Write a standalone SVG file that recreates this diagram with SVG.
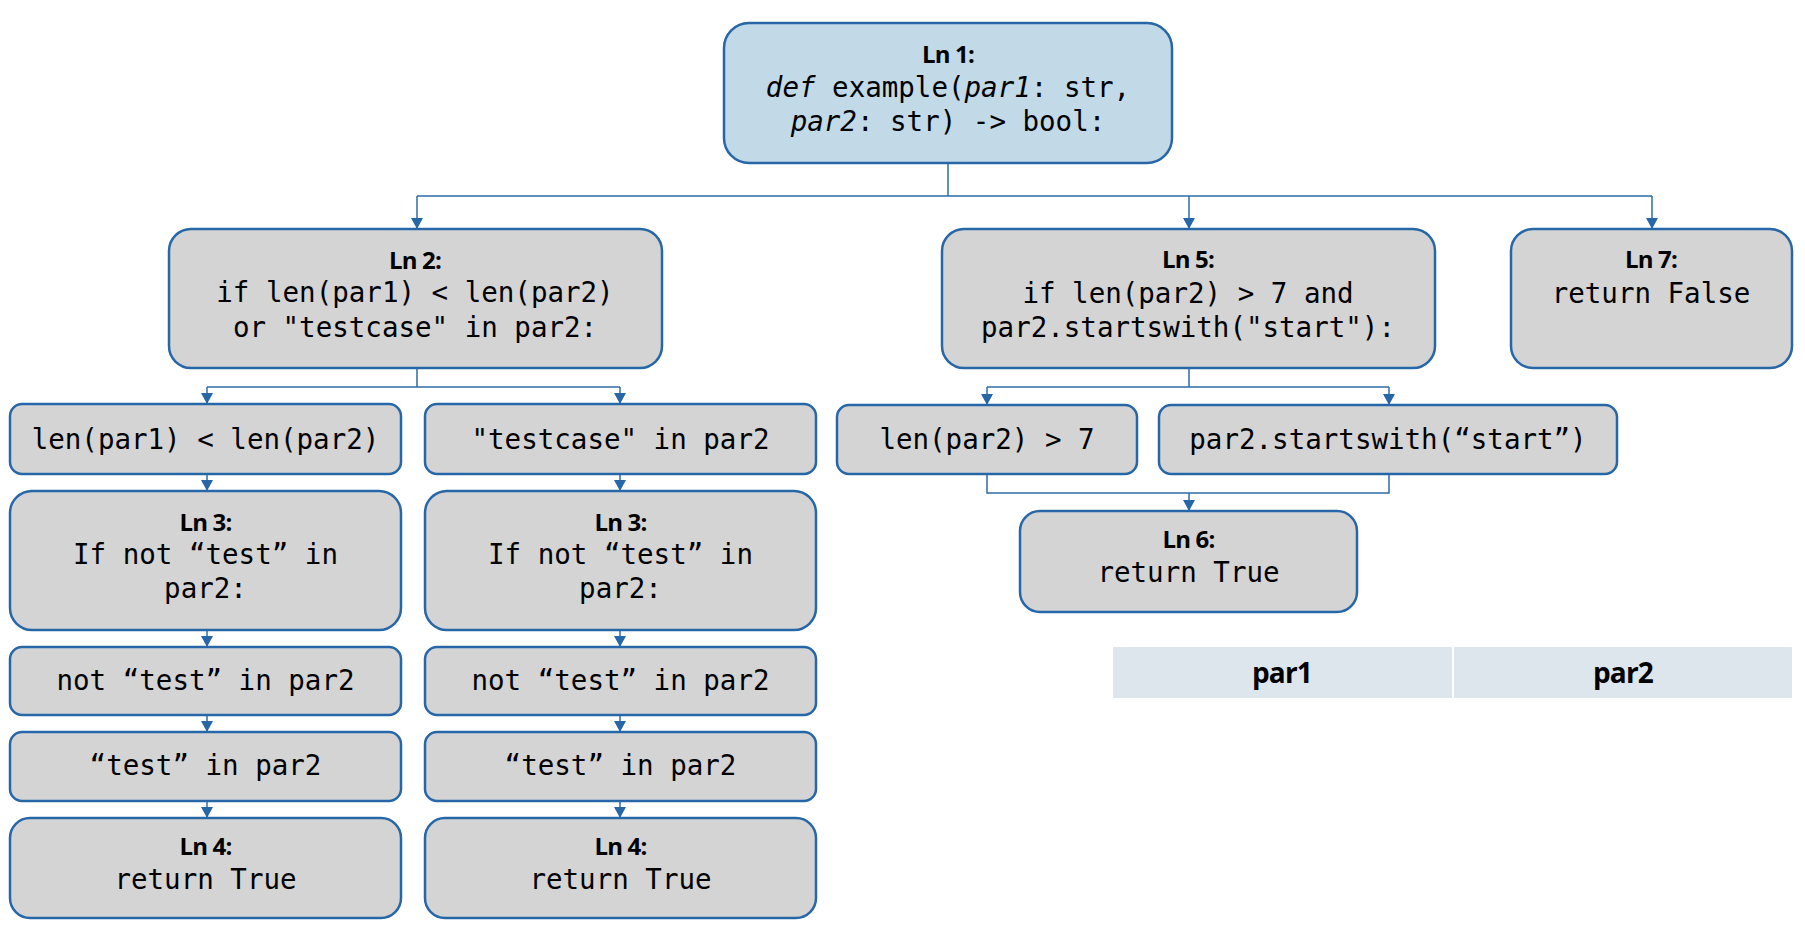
<svg xmlns="http://www.w3.org/2000/svg" width="1805" height="940" viewBox="0 0 1805 940">
<defs>
<style>
.box{fill:#d4d4d4;stroke:#2767a8;stroke-width:2.5}
.top{fill:#c2d9e8;stroke:#2767a8;stroke-width:2.5}
.code{font-family:"DejaVu Sans Mono","Liberation Mono",monospace;font-size:27.5px;fill:#000;text-anchor:middle}
.lbl{font-family:"Open Sans","Noto Sans",sans-serif;font-weight:bold;font-size:24px;fill:#000;text-anchor:middle;letter-spacing:-0.8px}
.tab{fill:#dee6ed}
.th{font-family:"Open Sans","Noto Sans",sans-serif;font-weight:bold;font-size:28px;fill:#000;text-anchor:middle;letter-spacing:-0.8px}
.c{fill:none;stroke:#2e6ca8;stroke-width:1.5}
.ca{fill:none;stroke:#2e6ca8;stroke-width:1.5;marker-end:url(#ah)}
</style>
<marker id="ah" markerUnits="userSpaceOnUse" markerWidth="12" markerHeight="12" refX="11" refY="6" orient="auto">
<path d="M0,0 L11,6 L0,12 z" fill="#2767a8"/>
</marker>
</defs>

<g id="connectors">
<path class="c" d="M948,163 V196 M417,196 H1652"/>
<path class="ca" d="M417,196 V229"/>
<path class="ca" d="M1189,196 V229"/>
<path class="ca" d="M1652,196 V229"/>
<path class="c" d="M417,368 V387 M207,387 H620"/>
<path class="ca" d="M207,387 V404"/>
<path class="ca" d="M620,387 V404"/>
<path class="ca" d="M207,474 V491"/>
<path class="ca" d="M207,630 V647"/>
<path class="ca" d="M207,715 V732"/>
<path class="ca" d="M207,801 V818"/>
<path class="ca" d="M620,474 V491"/>
<path class="ca" d="M620,630 V647"/>
<path class="ca" d="M620,715 V732"/>
<path class="ca" d="M620,801 V818"/>
<path class="c" d="M1189,368 V387 M987,387 H1389"/>
<path class="ca" d="M987,387 V405"/>
<path class="ca" d="M1389,387 V405"/>
<path class="c" d="M987,474 V493 H1389 V474"/>
<path class="ca" d="M1189,493 V511"/>
</g>

<g id="ln1">
<rect class="top" x="724" y="23" width="448" height="140" rx="25"/>
<text class="lbl" x="948" y="63">Ln 1:</text>
<text class="code" x="948" y="97"><tspan font-style="italic">def</tspan> example(<tspan font-style="italic">par1</tspan>: str,</text>
<text class="code" x="948" y="131"><tspan font-style="italic">par2</tspan>: str) -&gt; bool:</text>
</g>

<g id="ln2">
<rect class="box" x="169" y="229" width="493" height="139" rx="22"/>
<text class="lbl" x="415" y="269">Ln 2:</text>
<text class="code" x="415" y="302">if len(par1) &lt; len(par2)</text>
<text class="code" x="415" y="337">or "testcase" in par2:</text>
</g>

<g id="ln5">
<rect class="box" x="942" y="229" width="493" height="139" rx="22"/>
<text class="lbl" x="1188" y="268">Ln 5:</text>
<text class="code" x="1188" y="303">if len(par2) &gt; 7 and</text>
<text class="code" x="1188" y="337">par2.startswith("start"):</text>
</g>

<g id="ln7">
<rect class="box" x="1511" y="229" width="281" height="139" rx="22"/>
<text class="lbl" x="1651" y="268">Ln 7:</text>
<text class="code" x="1651" y="303">return False</text>
</g>

<g id="cond1">
<rect class="box" x="10" y="404" width="391" height="70" rx="12"/>
<text class="code" x="205.5" y="449">len(par1) &lt; len(par2)</text>
</g>
<g id="cond2">
<rect class="box" x="425" y="404" width="391" height="70" rx="12"/>
<text class="code" x="620.5" y="449">"testcase" in par2</text>
</g>

<g id="ln3a">
<rect class="box" x="10" y="491" width="391" height="139" rx="22"/>
<text class="lbl" x="205.5" y="531">Ln 3:</text>
<text class="code" x="205.5" y="564">If not “test” in</text>
<text class="code" x="205.5" y="598">par2:</text>
</g>
<g id="ln3b">
<rect class="box" x="425" y="491" width="391" height="139" rx="22"/>
<text class="lbl" x="620.5" y="531">Ln 3:</text>
<text class="code" x="620.5" y="564">If not “test” in</text>
<text class="code" x="620.5" y="598">par2:</text>
</g>

<g id="nota">
<rect class="box" x="10" y="647" width="391" height="68" rx="12"/>
<text class="code" x="205.5" y="690">not “test” in par2</text>
</g>
<g id="notb">
<rect class="box" x="425" y="647" width="391" height="68" rx="12"/>
<text class="code" x="620.5" y="690">not “test” in par2</text>
</g>

<g id="testa">
<rect class="box" x="10" y="732" width="391" height="69" rx="12"/>
<text class="code" x="205.5" y="775">“test” in par2</text>
</g>
<g id="testb">
<rect class="box" x="425" y="732" width="391" height="69" rx="12"/>
<text class="code" x="620.5" y="775">“test” in par2</text>
</g>

<g id="ln4a">
<rect class="box" x="10" y="818" width="391" height="100" rx="20"/>
<text class="lbl" x="205.5" y="855">Ln 4:</text>
<text class="code" x="205.5" y="889">return True</text>
</g>
<g id="ln4b">
<rect class="box" x="425" y="818" width="391" height="100" rx="20"/>
<text class="lbl" x="620.5" y="855">Ln 4:</text>
<text class="code" x="620.5" y="889">return True</text>
</g>

<g id="cond3">
<rect class="box" x="837" y="405" width="300" height="69" rx="12"/>
<text class="code" x="987" y="449">len(par2) &gt; 7</text>
</g>
<g id="cond4">
<rect class="box" x="1159" y="405" width="458" height="69" rx="12"/>
<text class="code" x="1388" y="449">par2.startswith(“start”)</text>
</g>

<g id="ln6">
<rect class="box" x="1020" y="511" width="337" height="101" rx="20"/>
<text class="lbl" x="1188.5" y="548">Ln 6:</text>
<text class="code" x="1188.5" y="582">return True</text>
</g>

<g id="table">
<rect class="tab" x="1113" y="647" width="339" height="51"/>
<rect class="tab" x="1454" y="647" width="338" height="51"/>
<text class="th" x="1282" y="683">par1</text>
<text class="th" x="1623" y="683">par2</text>
</g>
</svg>
